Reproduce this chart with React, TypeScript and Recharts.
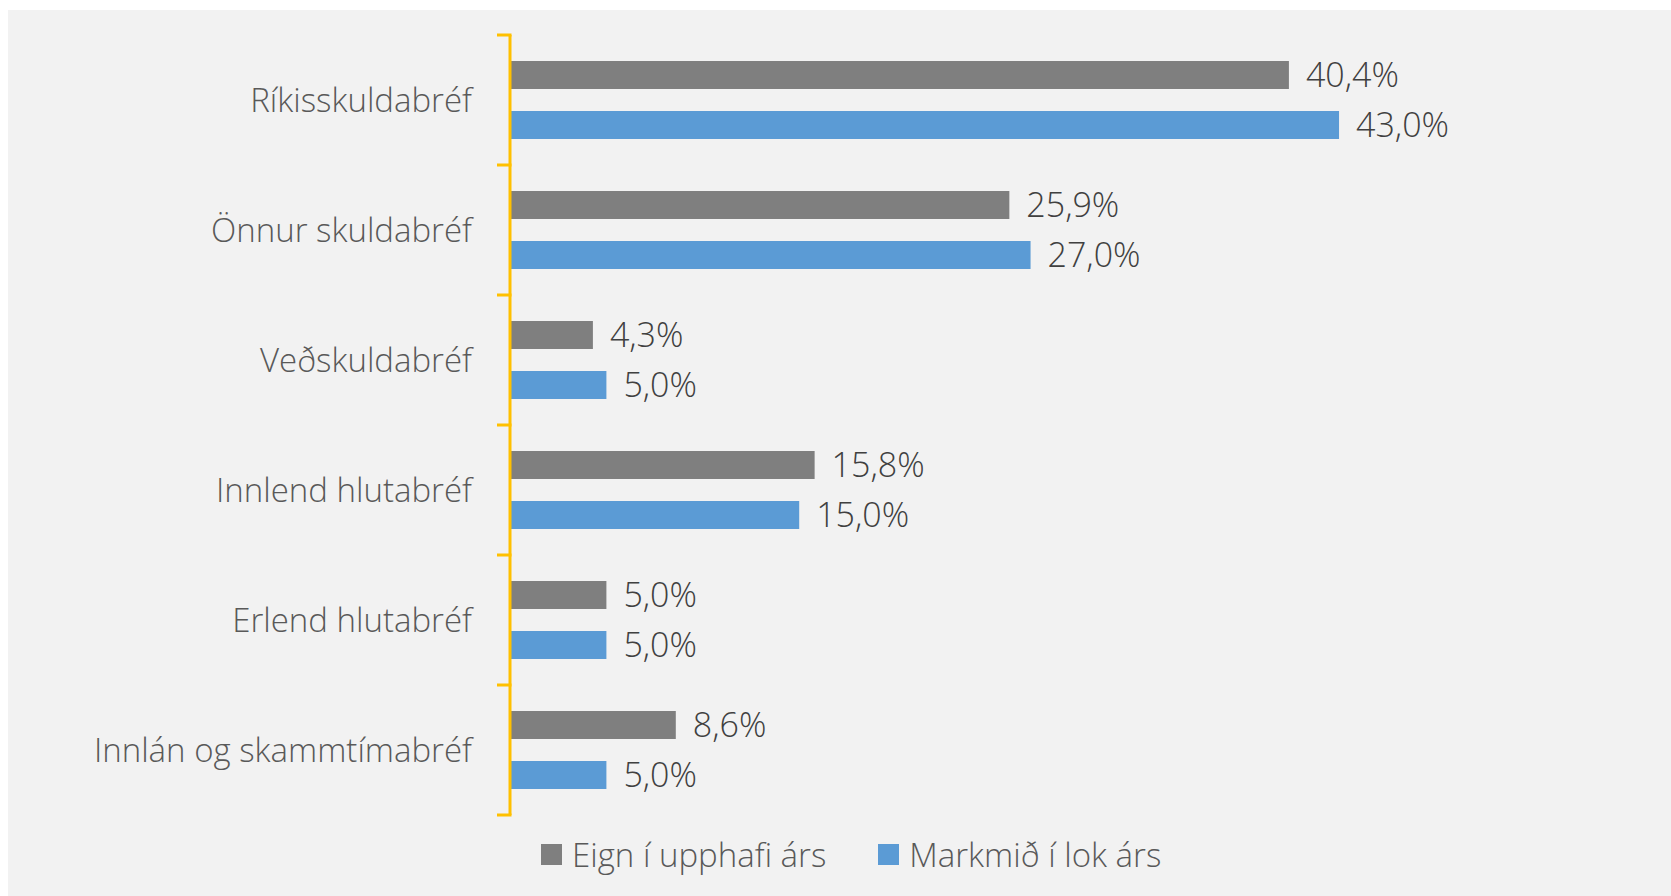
import React from "react";
import { BarChart, Bar, XAxis, YAxis, LabelList } from "recharts";

const categories = [
  "Ríkisskuldabréf",
  "Önnur skuldabréf",
  "Veðskuldabréf",
  "Innlend hlutabréf",
  "Erlend hlutabréf",
  "Innlán og skammtímabréf",
];
const eignValues = [40.4, 25.9, 4.3, 15.8, 5.0, 8.6];
const markmidValues = [43.0, 27.0, 5.0, 15.0, 5.0, 5.0];
const seriesNames = ["Eign í upphafi árs", "Markmið í lok árs"];
const xDomain: [number, number] = [0, 50];

const data = categories.map((name, i) => ({
  name,
  eign: eignValues[i],
  markmid: markmidValues[i],
}));

const W = 1663;
const H = 886;
const MARGIN = { top: 25, right: 197, bottom: 81, left: 0 };
const AXIS_W = 502;
const BAND = (H - MARGIN.top - MARGIN.bottom) / categories.length;
const FONT = "'Open Sans', 'Segoe UI', sans-serif";
const GRAY = "#7F7F7F";
const BLUE = "#5B9BD5";
const AXIS_COLOR = "#FFC000";
const FS = 33;
const FS_VAL = 34;
const FW = 350;

const fmt = (v: any) => `${Number(v).toFixed(1).replace(".", ",")}%`;

const CatTick = (props: any) => {
  const { y, payload, index } = props;
  const ax = AXIS_W;
  return (
    <g>
      <text
        x={ax - 38}
        y={y - 1}
        textAnchor="end"
        dominantBaseline="central"
        fill="#595959"
        fontSize={FS}
        fontWeight={FW}
        fontFamily={FONT}
      >
        {payload.value}
      </text>
      <line x1={ax - 13} x2={ax + 1.5} y1={y - BAND / 2} y2={y - BAND / 2} stroke={AXIS_COLOR} strokeWidth={3} />
      {index === categories.length - 1 && (
        <line x1={ax - 13} x2={ax + 1.5} y1={y + BAND / 2} y2={y + BAND / 2} stroke={AXIS_COLOR} strokeWidth={3} />
      )}
    </g>
  );
};

export default function App() {
  return (
    <div
      style={{
        position: "fixed",
        left: 8,
        top: 10,
        width: W,
        height: H,
        background: "#F2F2F2",
        overflow: "hidden",
        fontFamily: FONT,
      }}
    >
      <BarChart
        width={W}
        height={H}
        data={data}
        layout="vertical"
        margin={MARGIN}
        barSize={28}
        barGap={22}
      >
        <XAxis type="number" domain={xDomain} hide />
        <YAxis
          type="category"
          dataKey="name"
          width={AXIS_W}
          axisLine={{ stroke: AXIS_COLOR, strokeWidth: 3 }}
          tickLine={false}
          tick={<CatTick />}
          interval={0}
        />
        <Bar dataKey="eign" name={seriesNames[0]} fill={GRAY} isAnimationActive={false}>
          <LabelList
            dataKey="eign"
            position="right"
            offset={17}
            formatter={fmt}
            fill="#404040"
            fontSize={FS_VAL}
            fontWeight={FW}
            fontFamily={FONT}
          />
        </Bar>
        <Bar dataKey="markmid" name={seriesNames[1]} fill={BLUE} isAnimationActive={false}>
          <LabelList
            dataKey="markmid"
            position="right"
            offset={17}
            formatter={fmt}
            fill="#404040"
            fontSize={FS_VAL}
            fontWeight={FW}
            fontFamily={FONT}
          />
        </Bar>
      </BarChart>
      <div
        style={{
          position: "absolute",
          left: 533,
          top: 824,
          height: 40,
          display: "flex",
          alignItems: "center",
          fontSize: FS,
          fontWeight: FW,
          color: "#595959",
          whiteSpace: "nowrap",
        }}
      >
        <span style={{ width: 21, height: 21, background: GRAY, display: "inline-block" }} />
        <span style={{ marginLeft: 10 }}>{seriesNames[0]}</span>
        <span style={{ width: 21, height: 21, background: BLUE, display: "inline-block", marginLeft: 52 }} />
        <span style={{ marginLeft: 10 }}>{seriesNames[1]}</span>
      </div>
    </div>
  );
}
